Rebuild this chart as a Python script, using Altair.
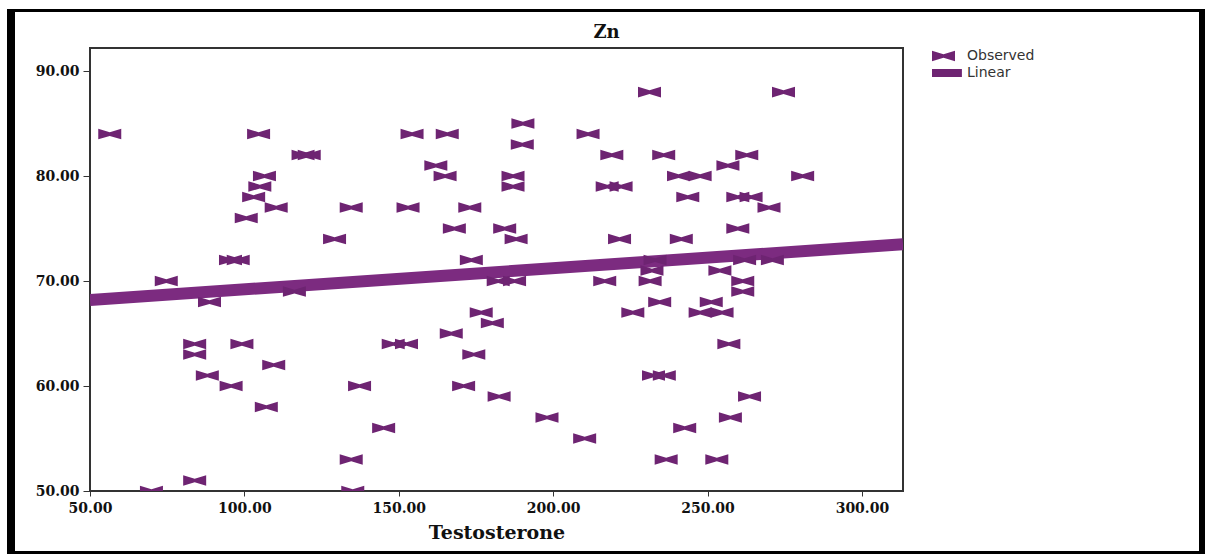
import altair as alt
import pandas as pd

# Observed points (Testosterone, Zn)
testosterone = [
    56.4, 104.6, 119.0, 121.0, 106.5, 105.0, 103.0, 110.3, 134.6, 100.6, 129.2, 95.5, 98.0,
    154.3, 165.7, 190.2, 190.0, 211.3, 162.0, 165.0, 187.0, 187.0, 219.0, 217.5, 222.0,
    153.0, 173.0, 168.0, 184.3, 188.0, 221.5, 173.5,
    231.2, 274.6, 235.8, 262.7, 256.6, 240.6, 247.6, 280.8, 243.6, 259.8, 264.1, 269.9,
    259.8, 241.5, 271.0, 262.0, 233.0, 232.0, 254.0,
    74.7, 88.7, 116.2, 83.9, 83.9, 99.2, 109.5, 88.0, 95.7, 107.1, 137.3, 134.6, 83.9, 69.9, 135.1,
    182.2, 187.5, 216.7, 176.7, 180.3, 167.0, 148.2, 152.5, 174.3, 171.0, 182.5, 198.0, 210.2,
    145.1, 225.8,
    231.4, 261.4, 261.4, 234.5, 251.2, 247.6, 254.7, 256.9, 232.5, 236.0, 263.6, 257.4, 242.6,
    236.6, 253.0,
]
zn = [
    84, 84, 82, 82, 80, 79, 78, 77, 77, 76, 74, 72, 72,
    84, 84, 85, 83, 84, 81, 80, 80, 79, 82, 79, 79,
    77, 77, 75, 75, 74, 74, 72,
    88, 88, 82, 82, 81, 80, 80, 80, 78, 78, 78, 77,
    75, 74, 72, 72, 72, 71, 71,
    70, 68, 69, 64, 63, 64, 62, 61, 60, 58, 60, 53, 51, 50, 50,
    70, 70, 70, 67, 66, 65, 64, 64, 63, 60, 59, 57, 55,
    56, 67,
    70, 70, 69, 68, 68, 67, 67, 64, 61, 61, 59, 57, 56,
    53, 53,
]

# Fitted linear line endpoints
line_x = [50.0, 313.3]
line_y = [68.2, 73.5]

series_names = ["Observed", "Linear"]
x_ticks = [50, 100, 150, 200, 250, 300]
y_ticks = [50, 60, 70, 80, 90]

PURPLE_PT = "#6e2472"
PURPLE_LN = "#7c2b80"
BOWTIE = "M-1,-0.46L0,-0.16L1,-0.46L1,0.46L0,0.16L-1,0.46Z"
BAR = "M-1.6,-0.35H1.6V0.35H-1.6Z"

pts = pd.DataFrame({"Testosterone": testosterone, "Zn": zn, "series": "Observed"})
ln = pd.DataFrame({"Testosterone": line_x, "Zn": line_y})

xscale = alt.Scale(domain=[50, 313.3], nice=False, zero=False)
yscale = alt.Scale(domain=[50, 92.2], nice=False, zero=False)

xaxis = alt.Axis(values=x_ticks, format=".2f", title="Testosterone", grid=False,
                 labelFont="DejaVu Serif", labelFontWeight="bold", labelFontSize=14,
                 labelColor="#111", titleFont="DejaVu Serif", titleFontWeight="bold",
                 titleFontSize=19, titleColor="#111", tickSize=5, labelPadding=5,
                 titlePadding=8, domainColor="#333", tickColor="#333", labelFlush=False)
yaxis = alt.Axis(values=y_ticks, format=".2f", title=None, grid=False,
                 labelFont="DejaVu Serif", labelFontWeight="bold", labelFontSize=14,
                 labelColor="#111", tickSize=7, labelPadding=4,
                 domainColor="#333", tickColor="#333")

line = alt.Chart(ln).mark_line(color=PURPLE_LN, strokeWidth=12, clip=True, strokeCap="butt").encode(
    x=alt.X("Testosterone:Q", scale=xscale, axis=xaxis),
    y=alt.Y("Zn:Q", scale=yscale, axis=yaxis),
)

points = alt.Chart(pts).mark_point(filled=True, size=529, opacity=1, clip=True,
                                   color=PURPLE_PT, strokeWidth=0).encode(
    x=alt.X("Testosterone:Q", scale=xscale),
    y=alt.Y("Zn:Q", scale=yscale),
    shape=alt.Shape("series:N",
                    scale=alt.Scale(domain=series_names, range=[BOWTIE, BAR]),
                    legend=alt.Legend(title=None, orient="none", legendX=842, legendY=2,
                                      symbolSize=529, symbolFillColor=PURPLE_LN,
                                      symbolStrokeColor=PURPLE_LN, symbolStrokeWidth=0,
                                      labelFont="DejaVu Sans", labelFontSize=14,
                                      labelColor="#333", labelOffset=12, clipHeight=12,
                                      rowPadding=3, padding=0)),
)

one = pd.DataFrame({"k": [1]})

def frame(x, x2, y, y2):
    return alt.Chart(one).mark_rect(color="#000", clip=False).encode(
        x=alt.value(x), x2=alt.value(x2), y=alt.value(y), y2=alt.value(y2))

frames = [
    frame(-83, -75, -39, 506),
    frame(-83, 1115, -39, -36),
    frame(1109, 1115, -39, 506),
    frame(-83, 1115, 503, 506),
]

chart = alt.layer(line, points, *frames).properties(
    width=813, height=443,
    title=alt.Title("Zn", font="DejaVu Serif", fontSize=18, fontWeight="bold",
                    anchor="middle", dx=110, offset=-33, color="#111"),
    autosize=alt.AutoSizeParams(type="none"),
    padding={"left": 90, "top": 48, "right": 303, "bottom": 64},
).configure(background="white").configure_view(stroke="#333", strokeWidth=2)

chart.save("out.html", embed_options={"renderer": "svg", "actions": False})
